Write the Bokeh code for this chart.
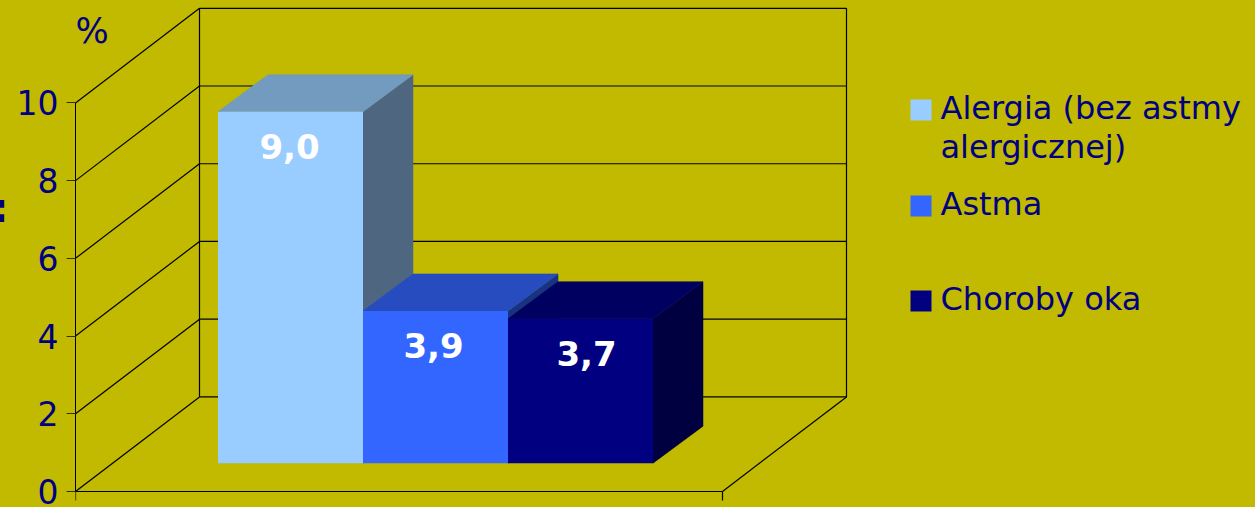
from bokeh.plotting import figure
from bokeh.models import Range1d, LinearAxis, FixedTicker
from bokeh.core.properties import value
from bokeh.embed import file_html
from bokeh.models import Label
from bokeh.resources import INLINE

# ---- data ----
categories = ["Alergia (bez astmy\nalergicznej)", "Astma", "Choroby oka"]
percent = [9.0, 3.9, 3.7]
value_labels = ["9,0", "3,9", "3,7"]
tick_values = [0, 2, 4, 6, 8, 10]

# ---- colours ----
BG = "#C1BA00"
NAVY = "#000080"
front_colors = ["#99CCFF", "#3366FF", "#000080"]
top_colors = ["#739ABF", "#264CBF", "#000060"]
side_colors = ["#4F6680", "#1A3380", "#000040"]

# ---- layout (pixels) ----
W, H = 1255, 507
PAGE_SHIFT = 11          # the far-left fragment runs off the page, as in the reference
AXIS_X, FLOOR_Y = 75, 491
PX_PER_UNIT = 38.86
WALL_DX, WALL_DY = 124, 94.6
FLOOR_W = 647
BAR_LEFT, BAR_W = 217.5, 145
BAR_BASE_Y = 462.7
BAR_SCALE = 1.005
DEPTH_DX, DEPTH_DY = 50, 37
TEXT_SHIFT = 13          # svg alphabetic baseline correction
label_dx = [-1, -2, 6]
LW = 1.2


def v_of_px(py):
    return (FLOOR_Y - py) / PX_PER_UNIT


p = figure(width=W + PAGE_SHIFT, height=H, output_backend="svg", toolbar_location=None,
           x_range=Range1d(AXIS_X, W), y_range=Range1d(v_of_px(H), v_of_px(0)),
           min_border_left=AXIS_X, min_border_right=0, min_border_top=0, min_border_bottom=0,
           x_axis_location=None, y_axis_location=None,
           background_fill_color=BG, border_fill_color=BG, outline_line_color=None)
p.grid.visible = False

axis = LinearAxis(ticker=FixedTicker(ticks=tick_values), bounds=(0, 10))
axis.axis_line_color = "black"
axis.major_tick_line_color = "#333300"
axis.major_tick_in = 0
axis.major_tick_out = 9
axis.minor_tick_line_color = None
axis.major_label_text_color = NAVY
axis.major_label_text_font = "DejaVu Sans"
axis.major_label_text_font_size = "33px"
axis.major_label_standoff = 8
p.add_layout(axis, "left")

# the fragment of a cut-off title at the far left, carried by an otherwise empty axis
frag = LinearAxis(ticker=FixedTicker(ticks=[]), bounds=(v_of_px(218), v_of_px(202)))
frag.axis_line_color = None
frag.major_tick_line_color = None
frag.minor_tick_line_color = None
frag.major_label_text_font_size = "0px"
frag.major_label_standoff = 0
frag.major_tick_out = 0
frag.major_tick_in = 0
frag.axis_label = ":\n\n"
frag.axis_label_orientation = "horizontal"
frag.axis_label_standoff = 5
frag.axis_label_text_color = NAVY
frag.axis_label_text_font = "DejaVu Sans"
frag.axis_label_text_font_style = "bold"
frag.axis_label_text_font_size = "40px"
frag.axis_label_text_line_height = 1.0
p.add_layout(frag, "left")

# 3D box: walls and floor
wall_dv = WALL_DY / PX_PER_UNIT
x0, x1 = AXIS_X, AXIS_X + WALL_DX
x2 = x1 + FLOOR_W
xr = AXIS_X + FLOOR_W
diag_xs = [[x0, x1] for _ in tick_values]
diag_ys = [[t, t + wall_dv] for t in tick_values]
back_xs = [[x1, x2] for _ in tick_values]
back_ys = [[t + wall_dv, t + wall_dv] for t in tick_values]
p.multi_line(diag_xs, diag_ys, line_color="black", line_width=LW)
p.multi_line(back_xs, back_ys, line_color="black", line_width=LW)
top_v = max(tick_values) + wall_dv
low_v = min(tick_values)
p.multi_line([[x1, x1], [x2, x2], [x0, xr], [xr, x2], [xr, xr], [x0, x0]],
             [[low_v + wall_dv, top_v], [low_v + wall_dv, top_v], [low_v, low_v],
              [low_v, low_v + wall_dv], [low_v, v_of_px(FLOOR_Y + 9)], [low_v, v_of_px(FLOOR_Y + 9)]],
             line_color="black", line_width=LW)

# 3D bars, drawn left to right so nearer faces overlap correctly
base_v = v_of_px(BAR_BASE_Y)
depth_v = DEPTH_DY / PX_PER_UNIT
for i, val in enumerate(percent):
    l = BAR_LEFT + i * BAR_W
    r = l + BAR_W
    t = base_v + val * BAR_SCALE
    p.patch([r, r + DEPTH_DX, r + DEPTH_DX, r],
            [base_v, base_v + depth_v, t + depth_v, t], color=side_colors[i], line_width=0.5)
    p.patch([l, l + DEPTH_DX, r + DEPTH_DX, r],
            [t, t + depth_v, t + depth_v, t], color=top_colors[i], line_width=0.5)
    p.quad(left=l, right=r, bottom=base_v, top=t, color=front_colors[i], line_width=0)
    p.text([(l + r) / 2 + label_dx[i]], [t - (48 - TEXT_SHIFT) / PX_PER_UNIT], text=[value_labels[i]],
           text_color="white", text_font=value("DejaVu Sans"), text_font_style="bold",
           text_font_size="34px", text_align="center", text_baseline="alphabetic")

# legend
legend_x = 910
legend_tops = [99, 195, 290]
SW = 21
LEG_TEXT_X = 940
baselines = [120, 216, 311]
for i, name in enumerate(categories):
    p.quad(left=legend_x, right=legend_x + SW, top=v_of_px(legend_tops[i]),
           bottom=v_of_px(legend_tops[i] + SW), color=front_colors[i], line_width=0)
    for j, part in enumerate(name.split("\n")):
        p.text([LEG_TEXT_X], [v_of_px(baselines[i] + j * 39 - TEXT_SHIFT)], text=[part], text_color=NAVY,
               text_font=value("DejaVu Sans"), text_font_size="32px",
               text_align="left", text_baseline="alphabetic")

p.add_layout(Label(x=0, y=H - 50, x_units="screen", y_units="screen", text="%",
                   text_color=NAVY, text_font="DejaVu Sans", text_font_size="35px"))

html = file_html(p, INLINE)
html = html.replace("</head>", f"<style>html,body{{margin:0;padding:0;background:{BG};overflow:hidden}}body{{margin-left:-{PAGE_SHIFT}px}}</style></head>")
open("out.html", "w").write(html)
